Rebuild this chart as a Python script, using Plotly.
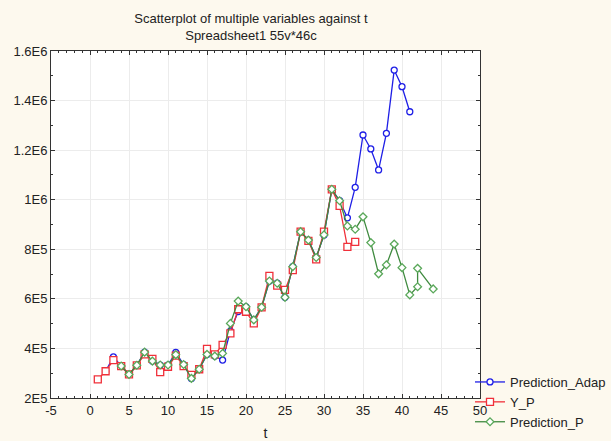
import plotly.graph_objects as go

# ---- data ----
t_adap = list(range(2, 42))
prediction_adap = [308e3, 366e3, 329e3, 295e3, 332e3, 385e3, 349e3, 333e3, 333e3, 384e3,
                   335e3, 279e3, 316e3, 376e3, 369e3, 353e3, 470e3, 549e3, 568e3, 515e3,
                   566e3, 672e3, 663e3, 606e3, 730e3, 871e3, 837e3, 767e3, 858e3, 1042e3,
                   996e3, 927e3, 1050e3, 1261e3, 1205e3, 1120e3, 1268e3, 1523e3, 1456e3, 1355e3]

t_y = list(range(1, 35))
y_p = [275e3, 308e3, 353e3, 329e3, 295e3, 332e3, 376e3, 358e3, 304e3, 326e3,
       371e3, 329e3, 293e3, 316e3, 398e3, 376e3, 414e3, 461e3, 558e3, 548e3,
       501e3, 566e3, 693e3, 653e3, 636e3, 716e3, 871e3, 834e3, 759e3, 871e3,
       1042e3, 975e3, 810e3, 830e3]

t_pred = list(range(4, 42)) + [42, 42, 44]
prediction_p = [329e3, 295e3, 332e3, 385e3, 349e3, 333e3, 333e3, 375e3, 335e3, 279e3,
                316e3, 376e3, 369e3, 380e3, 501e3, 591e3, 568e3, 515e3, 566e3, 672e3,
                663e3, 606e3, 730e3, 871e3, 837e3, 767e3, 858e3, 1042e3, 996e3, 894e3,
                881e3, 931e3, 827e3, 701e3, 737e3, 821e3, 726e3, 616e3, 649e3, 723e3, 640e3]

x_tickvals = [-5, 0, 5, 10, 15, 20, 25, 30, 35, 40, 45, 50]
x_ticktext = ["-5", "0", "5", "10", "15", "20", "25", "30", "35", "40", "45", "50"]
y_tickvals = [2e5, 4e5, 6e5, 8e5, 1e6, 1.2e6, 1.4e6, 1.6e6]
y_ticktext = ["2E5", "4E5", "6E5", "8E5", "1E6", "1.2E6", "1.4E6", "1.6E6"]

FONT = "Liberation Sans, Arial, sans-serif"

fig = go.Figure()
fig.add_trace(go.Scatter(
    x=t_adap, y=prediction_adap, name="Prediction_Adap", mode="lines+markers",
    line=dict(color="#1f1fe6", width=1.3),
    marker=dict(symbol="circle", size=6, color="white", line=dict(color="#1f1fe6", width=1.3))))
fig.add_trace(go.Scatter(
    x=t_y, y=y_p, name="Y_P", mode="lines+markers",
    line=dict(color="#f0303a", width=1.3),
    marker=dict(symbol="square", size=7, color="white", line=dict(color="#f0303a", width=1.3))))
fig.add_trace(go.Scatter(
    x=t_pred, y=prediction_p, name="Prediction_P", mode="lines+markers",
    line=dict(color="#3f8a3f", width=1.3),
    marker=dict(symbol="diamond", size=6, color="white", line=dict(color="#5aa85a", width=1.3))))

fig.update_layout(
    width=611, height=441,
    paper_bgcolor="#fdf9ee", plot_bgcolor="white",
    margin=dict(l=51, r=131, t=51, b=43, autoexpand=False),
    font=dict(family=FONT, size=12, color="#222"),
    title=dict(text="Scatterplot of multiple variables against t<br>Spreadsheet1 55v*46c",
               x=251 / 611, xanchor="center", xref="container",
               y=1 - 23 / 441, yanchor="top", yref="container",
               font=dict(family=FONT, size=13, color="#222")),
    showlegend=True,
    legend=dict(x=470 / 611, xref="container", xanchor="left",
                y=1 - 367 / 441, yref="container", yanchor="top",
                bgcolor="rgba(0,0,0,0)", font=dict(family=FONT, size=13, color="#222"),
                tracegroupgap=0, itemwidth=30),
)
fig.update_xaxes(
    range=[-5, 50], tickvals=x_tickvals, ticktext=x_ticktext, automargin=False,
    showgrid=True, gridcolor="#ececec", gridwidth=1,
    zeroline=False, showline=True, linecolor="#333", linewidth=1, mirror="allticks",
    ticks="inside", ticklen=4, tickcolor="#333",
    minor=dict(dtick=1, ticks="inside", ticklen=2, tickcolor="#333", showgrid=False),
    title=dict(text="t", font=dict(family=FONT, size=14), standoff=12),
    tickfont=dict(family=FONT, size=13))
fig.update_yaxes(
    range=[2e5, 1.6e6], tickvals=y_tickvals, ticktext=y_ticktext, automargin=False,
    showgrid=True, gridcolor="#ececec", gridwidth=1, zeroline=False, showline=True,
    linecolor="#333", linewidth=1, mirror="allticks", ticks="inside", ticklen=4,
    tickcolor="#333",
    minor=dict(dtick=1e5, ticks="inside", ticklen=2, tickcolor="#333", showgrid=False),
    tickfont=dict(family=FONT, size=13))

fig.write_html("out.html", config={"displayModeBar": False},
               post_script="document.body.style.margin='0';document.body.style.background='#fdf9ee';")
